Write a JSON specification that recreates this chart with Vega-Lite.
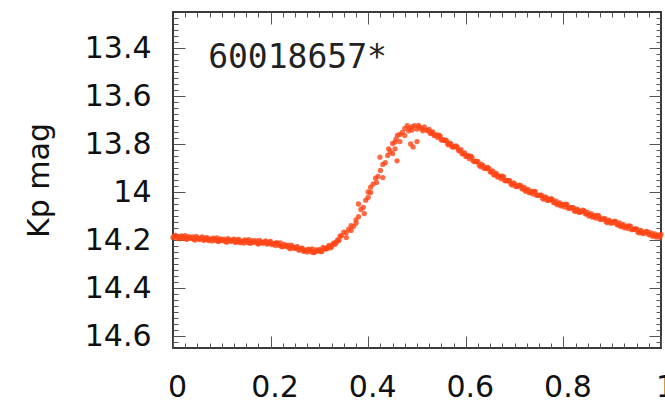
{
  "$schema": "https://vega.github.io/schema/vega-lite/v6.json",
  "width": 488,
  "height": 336,
  "autosize": "none",
  "padding": {"left": 173, "top": 12, "right": 4, "bottom": 55},
  "background": "white",
  "config": {
    "view": {"stroke": "#3a3a3a", "strokeWidth": 2},
    "axis": {
      "domain": false,
      "grid": false,
      "tickColor": "#555555",
      "tickWidth": 1,
      "labelFont": "DejaVu Sans",
      "labelFontSize": 30,
      "labelColor": "#111111",
      "labelOverlap": false,
      "labelFlush": false,
      "titleFont": "DejaVu Sans",
      "titleFontSize": 30,
      "titleFontWeight": "normal",
      "titleColor": "#111111"
    }
  },
  "datasets": {
    "lc": [
      {"p":0.000,"m":14.190},{"p":0.005,"m":14.181},{"p":0.010,"m":14.189},{"p":0.015,"m":14.195},{"p":0.020,"m":14.186},
      {"p":0.025,"m":14.182},{"p":0.030,"m":14.195},{"p":0.035,"m":14.191},{"p":0.040,"m":14.187},{"p":0.045,"m":14.200},
      {"p":0.050,"m":14.191},{"p":0.055,"m":14.197},{"p":0.060,"m":14.187},{"p":0.065,"m":14.199},{"p":0.070,"m":14.190},
      {"p":0.075,"m":14.198},{"p":0.080,"m":14.204},{"p":0.085,"m":14.195},{"p":0.090,"m":14.191},{"p":0.095,"m":14.204},
      {"p":0.100,"m":14.200},{"p":0.105,"m":14.196},{"p":0.110,"m":14.209},{"p":0.115,"m":14.200},{"p":0.120,"m":14.205},
      {"p":0.125,"m":14.196},{"p":0.130,"m":14.208},{"p":0.135,"m":14.198},{"p":0.140,"m":14.207},{"p":0.145,"m":14.213},
      {"p":0.150,"m":14.203},{"p":0.155,"m":14.199},{"p":0.160,"m":14.212},{"p":0.165,"m":14.208},{"p":0.170,"m":14.203},
      {"p":0.175,"m":14.217},{"p":0.180,"m":14.208},{"p":0.185,"m":14.213},{"p":0.190,"m":14.204},{"p":0.195,"m":14.215},
      {"p":0.200,"m":14.206},{"p":0.205,"m":14.216},{"p":0.210,"m":14.223},{"p":0.215,"m":14.215},{"p":0.220,"m":14.212},
      {"p":0.225,"m":14.227},{"p":0.230,"m":14.224},{"p":0.235,"m":14.221},{"p":0.240,"m":14.236},{"p":0.245,"m":14.228},
      {"p":0.250,"m":14.235},{"p":0.255,"m":14.228},{"p":0.260,"m":14.241},{"p":0.265,"m":14.234},{"p":0.270,"m":14.244},
      {"p":0.275,"m":14.250},{"p":0.280,"m":14.241},{"p":0.285,"m":14.237},{"p":0.290,"m":14.251},{"p":0.295,"m":14.245},
      {"p":0.300,"m":14.239},{"p":0.305,"m":14.248},{"p":0.310,"m":14.235},{"p":0.315,"m":14.236},{"p":0.320,"m":14.223},
      {"p":0.325,"m":14.228},{"p":0.330,"m":14.212},{"p":0.335,"m":14.208},{"p":0.340,"m":14.202},{"p":0.345,"m":14.182},
      {"p":0.350,"m":14.167},{"p":0.355,"m":14.170},{"p":0.360,"m":14.155},{"p":0.365,"m":14.140},{"p":0.370,"m":14.143},
      {"p":0.375,"m":14.116},{"p":0.380,"m":14.103},{"p":0.385,"m":14.073},{"p":0.390,"m":14.064},{"p":0.395,"m":14.034},
      {"p":0.400,"m":14.022},{"p":0.405,"m":14.002},{"p":0.410,"m":13.967},{"p":0.415,"m":13.942},{"p":0.420,"m":13.935},
      {"p":0.425,"m":13.910},{"p":0.430,"m":13.885},{"p":0.435,"m":13.878},{"p":0.440,"m":13.848},{"p":0.445,"m":13.831},
      {"p":0.450,"m":13.798},{"p":0.455,"m":13.792},{"p":0.460,"m":13.764},{"p":0.465,"m":13.760},{"p":0.470,"m":13.752},
      {"p":0.475,"m":13.735},{"p":0.480,"m":13.724},{"p":0.485,"m":13.735},{"p":0.490,"m":13.728},{"p":0.495,"m":13.724},
      {"p":0.500,"m":13.738},{"p":0.505,"m":13.730},{"p":0.510,"m":13.737},{"p":0.515,"m":13.729},{"p":0.520,"m":13.742},
      {"p":0.525,"m":13.739},{"p":0.530,"m":13.754},{"p":0.535,"m":13.765},{"p":0.540,"m":13.762},{"p":0.545,"m":13.763},
      {"p":0.550,"m":13.783},{"p":0.555,"m":13.784},{"p":0.560,"m":13.785},{"p":0.565,"m":13.804},{"p":0.570,"m":13.801},
      {"p":0.575,"m":13.812},{"p":0.580,"m":13.808},{"p":0.585,"m":13.826},{"p":0.590,"m":13.824},{"p":0.595,"m":13.840},
      {"p":0.600,"m":13.852},{"p":0.605,"m":13.849},{"p":0.610,"m":13.851},{"p":0.615,"m":13.871},{"p":0.620,"m":13.873},
      {"p":0.625,"m":13.874},{"p":0.630,"m":13.894},{"p":0.635,"m":13.890},{"p":0.640,"m":13.901},{"p":0.645,"m":13.898},
      {"p":0.650,"m":13.916},{"p":0.655,"m":13.912},{"p":0.660,"m":13.927},{"p":0.665,"m":13.938},{"p":0.670,"m":13.934},
      {"p":0.675,"m":13.934},{"p":0.680,"m":13.953},{"p":0.685,"m":13.953},{"p":0.690,"m":13.953},{"p":0.695,"m":13.971},
      {"p":0.700,"m":13.966},{"p":0.705,"m":13.976},{"p":0.710,"m":13.971},{"p":0.715,"m":13.986},{"p":0.720,"m":13.981},
      {"p":0.725,"m":13.994},{"p":0.730,"m":14.003},{"p":0.735,"m":13.998},{"p":0.740,"m":13.997},{"p":0.745,"m":14.014},
      {"p":0.750,"m":14.014},{"p":0.755,"m":14.013},{"p":0.760,"m":14.030},{"p":0.765,"m":14.024},{"p":0.770,"m":14.034},
      {"p":0.775,"m":14.028},{"p":0.780,"m":14.044},{"p":0.785,"m":14.038},{"p":0.790,"m":14.050},{"p":0.795,"m":14.058},
      {"p":0.800,"m":14.052},{"p":0.805,"m":14.051},{"p":0.810,"m":14.068},{"p":0.815,"m":14.066},{"p":0.820,"m":14.065},
      {"p":0.825,"m":14.081},{"p":0.830,"m":14.075},{"p":0.835,"m":14.083},{"p":0.840,"m":14.076},{"p":0.845,"m":14.091},
      {"p":0.850,"m":14.085},{"p":0.855,"m":14.096},{"p":0.860,"m":14.105},{"p":0.865,"m":14.099},{"p":0.870,"m":14.098},
      {"p":0.875,"m":14.114},{"p":0.880,"m":14.113},{"p":0.885,"m":14.111},{"p":0.890,"m":14.127},{"p":0.895,"m":14.120},
      {"p":0.900,"m":14.128},{"p":0.905,"m":14.121},{"p":0.910,"m":14.136},{"p":0.915,"m":14.129},{"p":0.920,"m":14.140},
      {"p":0.925,"m":14.149},{"p":0.930,"m":14.142},{"p":0.935,"m":14.141},{"p":0.940,"m":14.157},{"p":0.945,"m":14.155},
      {"p":0.950,"m":14.154},{"p":0.955,"m":14.170},{"p":0.960,"m":14.163},{"p":0.965,"m":14.171},{"p":0.970,"m":14.164},
      {"p":0.975,"m":14.177},{"p":0.980,"m":14.170},{"p":0.985,"m":14.180},{"p":0.990,"m":14.188},{"p":0.995,"m":14.180},
      {"p":1.000,"m":14.177},
      {"p":0.424,"m":13.855},{"p":0.459,"m":13.870},{"p":0.487,"m":13.800},{"p":0.492,"m":13.812},{"p":0.500,"m":13.790},
      {"p":0.430,"m":13.940},{"p":0.400,"m":14.000},{"p":0.380,"m":14.050},{"p":0.450,"m":13.840},{"p":0.465,"m":13.790},
      {"p":0.475,"m":13.765},{"p":0.455,"m":13.820},{"p":0.355,"m":14.190},{"p":0.365,"m":14.160},{"p":0.375,"m":14.130},
      {"p":0.392,"m":14.090},{"p":0.405,"m":13.980},{"p":0.417,"m":13.960},{"p":0.442,"m":13.820},{"p":0.457,"m":13.780},
      {"p":0.490,"m":13.742},{"p":0.512,"m":13.745},{"p":0.503,"m":13.722},{"p":0.483,"m":13.745},
      {"p":0.0025,"m":14.183},{"p":0.0075,"m":14.193},{"p":0.0125,"m":14.187},{"p":0.0175,"m":14.183},{"p":0.0225,"m":14.193},
      {"p":0.0275,"m":14.197},{"p":0.0325,"m":14.186},{"p":0.0375,"m":14.193},{"p":0.0425,"m":14.197},{"p":0.0475,"m":14.185},
      {"p":0.0525,"m":14.196},{"p":0.0575,"m":14.191},{"p":0.0625,"m":14.201},{"p":0.0675,"m":14.192},{"p":0.0725,"m":14.202},
      {"p":0.0775,"m":14.196},{"p":0.0825,"m":14.192},{"p":0.0875,"m":14.202},{"p":0.0925,"m":14.206},{"p":0.0975,"m":14.195},
      {"p":0.1025,"m":14.202},{"p":0.1075,"m":14.206},{"p":0.1125,"m":14.194},{"p":0.1175,"m":14.204},{"p":0.1225,"m":14.200},
      {"p":0.1275,"m":14.210},{"p":0.1325,"m":14.200},{"p":0.1375,"m":14.211},{"p":0.1425,"m":14.205},{"p":0.1475,"m":14.200},
      {"p":0.1525,"m":14.210},{"p":0.1575,"m":14.214},{"p":0.1625,"m":14.203},{"p":0.1675,"m":14.209},{"p":0.1725,"m":14.214},
      {"p":0.1775,"m":14.202},{"p":0.1825,"m":14.212},{"p":0.1875,"m":14.208},{"p":0.1925,"m":14.217},{"p":0.1975,"m":14.208},
      {"p":0.2025,"m":14.219},{"p":0.2075,"m":14.214},{"p":0.2125,"m":14.211},{"p":0.2175,"m":14.222},{"p":0.2225,"m":14.228},
      {"p":0.2275,"m":14.218},{"p":0.2325,"m":14.226},{"p":0.2375,"m":14.232},{"p":0.2425,"m":14.221},{"p":0.2475,"m":14.233},
      {"p":0.2525,"m":14.231},{"p":0.2575,"m":14.242},{"p":0.2625,"m":14.235},{"p":0.2675,"m":14.247},{"p":0.2725,"m":14.242},
      {"p":0.2775,"m":14.238},{"p":0.2825,"m":14.248},{"p":0.2875,"m":14.253},{"p":0.2925,"m":14.241},{"p":0.2975,"m":14.246},
      {"p":0.3025,"m":14.247},{"p":0.3075,"m":14.231},{"p":0.3125,"m":14.237},{"p":0.3175,"m":14.229},{"p":0.3225,"m":14.233},
      {"p":0.3275,"m":14.217},{"p":0.3325,"m":14.218},{"p":0.3375,"m":14.200},{"p":0.3425,"m":14.184},
      {"p":0.5225,"m":13.745},{"p":0.5275,"m":13.756},{"p":0.5325,"m":13.750},{"p":0.5375,"m":13.763},{"p":0.5425,"m":13.773},
      {"p":0.5475,"m":13.767},{"p":0.5525,"m":13.783},{"p":0.5575,"m":13.784},{"p":0.5625,"m":13.799},{"p":0.5675,"m":13.796},
      {"p":0.5725,"m":13.812},{"p":0.5775,"m":13.811},{"p":0.5825,"m":13.813},{"p":0.5875,"m":13.829},{"p":0.5925,"m":13.841},
      {"p":0.5975,"m":13.837},{"p":0.6025,"m":13.850},{"p":0.6075,"m":13.861},{"p":0.6125,"m":13.855},{"p":0.6175,"m":13.872},
      {"p":0.6225,"m":13.873},{"p":0.6275,"m":13.889},{"p":0.6325,"m":13.885},{"p":0.6375,"m":13.901},{"p":0.6425,"m":13.901},
      {"p":0.6475,"m":13.903},{"p":0.6525,"m":13.918},{"p":0.6575,"m":13.929},{"p":0.6625,"m":13.923},{"p":0.6675,"m":13.935},
      {"p":0.6725,"m":13.945},{"p":0.6775,"m":13.937},{"p":0.6825,"m":13.953},{"p":0.6875,"m":13.953},{"p":0.6925,"m":13.967},
      {"p":0.6975,"m":13.962},{"p":0.7025,"m":13.977},{"p":0.7075,"m":13.975},{"p":0.7125,"m":13.974},{"p":0.7175,"m":13.988},
      {"p":0.7225,"m":13.997},{"p":0.7275,"m":13.989},{"p":0.7325,"m":14.000},{"p":0.7375,"m":14.008},{"p":0.7425,"m":13.999},
      {"p":0.7475,"m":14.014},{"p":0.7525,"m":14.013},{"p":0.7575,"m":14.026},{"p":0.7625,"m":14.020},{"p":0.7675,"m":14.035},
      {"p":0.7725,"m":14.032},{"p":0.7775,"m":14.032},{"p":0.7825,"m":14.045},{"p":0.7875,"m":14.053},{"p":0.7925,"m":14.045},
      {"p":0.7975,"m":14.054},{"p":0.8025,"m":14.062},{"p":0.8075,"m":14.053},{"p":0.8125,"m":14.067},{"p":0.8175,"m":14.065},
      {"p":0.8225,"m":14.078},{"p":0.8275,"m":14.071},{"p":0.8325,"m":14.085},{"p":0.8375,"m":14.081},{"p":0.8425,"m":14.079},
      {"p":0.8475,"m":14.092},{"p":0.8525,"m":14.100},{"p":0.8575,"m":14.091},{"p":0.8625,"m":14.101},{"p":0.8675,"m":14.109},
      {"p":0.8725,"m":14.100},{"p":0.8775,"m":14.113},{"p":0.8825,"m":14.112},{"p":0.8875,"m":14.124},{"p":0.8925,"m":14.117},
      {"p":0.8975,"m":14.130},{"p":0.9025,"m":14.126},{"p":0.9075,"m":14.124},{"p":0.9125,"m":14.137},{"p":0.9175,"m":14.144},
      {"p":0.9225,"m":14.135},{"p":0.9275,"m":14.145},{"p":0.9325,"m":14.152},{"p":0.9375,"m":14.143},{"p":0.9425,"m":14.156},
      {"p":0.9475,"m":14.154},{"p":0.9525,"m":14.167},{"p":0.9575,"m":14.160},{"p":0.9625,"m":14.173},{"p":0.9675,"m":14.169},
      {"p":0.9725,"m":14.166},{"p":0.9775,"m":14.178},{"p":0.9825,"m":14.184},{"p":0.9875,"m":14.175},{"p":0.9925,"m":14.183},
      {"p":0.9975,"m":14.189}
    ],
    "lbl": [{"id": "60018657*"}]
  },
  "layer": [
    {
      "data": {"name": "lc"},
      "mark": {"type": "point", "filled": true, "shape": "circle", "size": 28, "opacity": 0.8, "color": "#ff4515"},
      "encoding": {
        "x": {
          "field": "p", "type": "quantitative",
          "scale": {"domain": [0, 1], "nice": false, "zero": false},
          "axis": {
            "orient": "bottom", "title": null,
            "values": [0.025,0.05,0.075,0.1,0.125,0.15,0.175,0.2,0.225,0.25,0.275,0.3,0.325,0.35,0.375,0.4,0.425,0.45,0.475,0.5,0.525,0.55,0.575,0.6,0.625,0.65,0.675,0.7,0.725,0.75,0.775,0.8,0.825,0.85,0.875,0.9,0.925,0.95,0.975,0,1],
            "tickSize": {"condition": {"test": "abs(datum.value*5-round(datum.value*5))<0.001", "value": -12}, "value": -5},
            "labelPadding": 36,
            "labelOffset": 4,
            "labelExpr": "abs(datum.value*5-round(datum.value*5))<0.001 ? format(datum.value,'~g') : ''"
          }
        },
        "y": {
          "field": "m", "type": "quantitative",
          "scale": {"domain": [13.25, 14.65], "reverse": true, "nice": false, "zero": false},
          "axis": {
            "orient": "left", "title": "Kp mag", "titlePadding": 30,
            "values": [13.275,13.3,13.325,13.35,13.375,13.4,13.425,13.45,13.475,13.5,13.525,13.55,13.575,13.6,13.625,13.65,13.675,13.7,13.725,13.75,13.775,13.8,13.825,13.85,13.875,13.9,13.925,13.95,13.975,14,14.025,14.05,14.075,14.1,14.125,14.15,14.175,14.2,14.225,14.25,14.275,14.3,14.325,14.35,14.375,14.4,14.425,14.45,14.475,14.5,14.525,14.55,14.575,14.6,14.625],
            "tickSize": {"condition": {"test": "abs(datum.value*5-round(datum.value*5))<0.001", "value": -12}, "value": -5},
            "labelPadding": 34,
            "labelExpr": "abs(datum.value*5-round(datum.value*5))<0.001 ? format(datum.value,'~g') : ''"
          }
        }
      }
    },
    {
      "data": {"name": "lbl"},
      "mark": {"type": "text", "align": "left", "baseline": "middle", "font": "DejaVu Sans Mono", "fontSize": 33, "color": "#222222"},
      "encoding": {
        "x": {
          "datum": 0.072, "type": "quantitative",
          "scale": {"domain": [0, 1], "nice": false, "zero": false},
          "axis": {
            "orient": "top", "title": null, "labels": false,
            "values": [0.025,0.05,0.075,0.1,0.125,0.15,0.175,0.2,0.225,0.25,0.275,0.3,0.325,0.35,0.375,0.4,0.425,0.45,0.475,0.5,0.525,0.55,0.575,0.6,0.625,0.65,0.675,0.7,0.725,0.75,0.775,0.8,0.825,0.85,0.875,0.9,0.925,0.95,0.975],
            "tickSize": {"condition": {"test": "abs(datum.value*5-round(datum.value*5))<0.001", "value": -12}, "value": -5}
          }
        },
        "y": {
          "datum": 13.44, "type": "quantitative",
          "scale": {"domain": [13.25, 14.65], "reverse": true, "nice": false, "zero": false},
          "axis": {
            "orient": "right", "title": null, "labels": false,
            "values": [13.275,13.3,13.325,13.35,13.375,13.4,13.425,13.45,13.475,13.5,13.525,13.55,13.575,13.6,13.625,13.65,13.675,13.7,13.725,13.75,13.775,13.8,13.825,13.85,13.875,13.9,13.925,13.95,13.975,14,14.025,14.05,14.075,14.1,14.125,14.15,14.175,14.2,14.225,14.25,14.275,14.3,14.325,14.35,14.375,14.4,14.425,14.45,14.475,14.5,14.525,14.55,14.575,14.6,14.625],
            "tickSize": {"condition": {"test": "abs(datum.value*5-round(datum.value*5))<0.001", "value": -12}, "value": -5}
          }
        },
        "text": {"field": "id", "type": "nominal"}
      }
    }
  ],
  "resolve": {"axis": {"x": "independent", "y": "independent"}}
}
